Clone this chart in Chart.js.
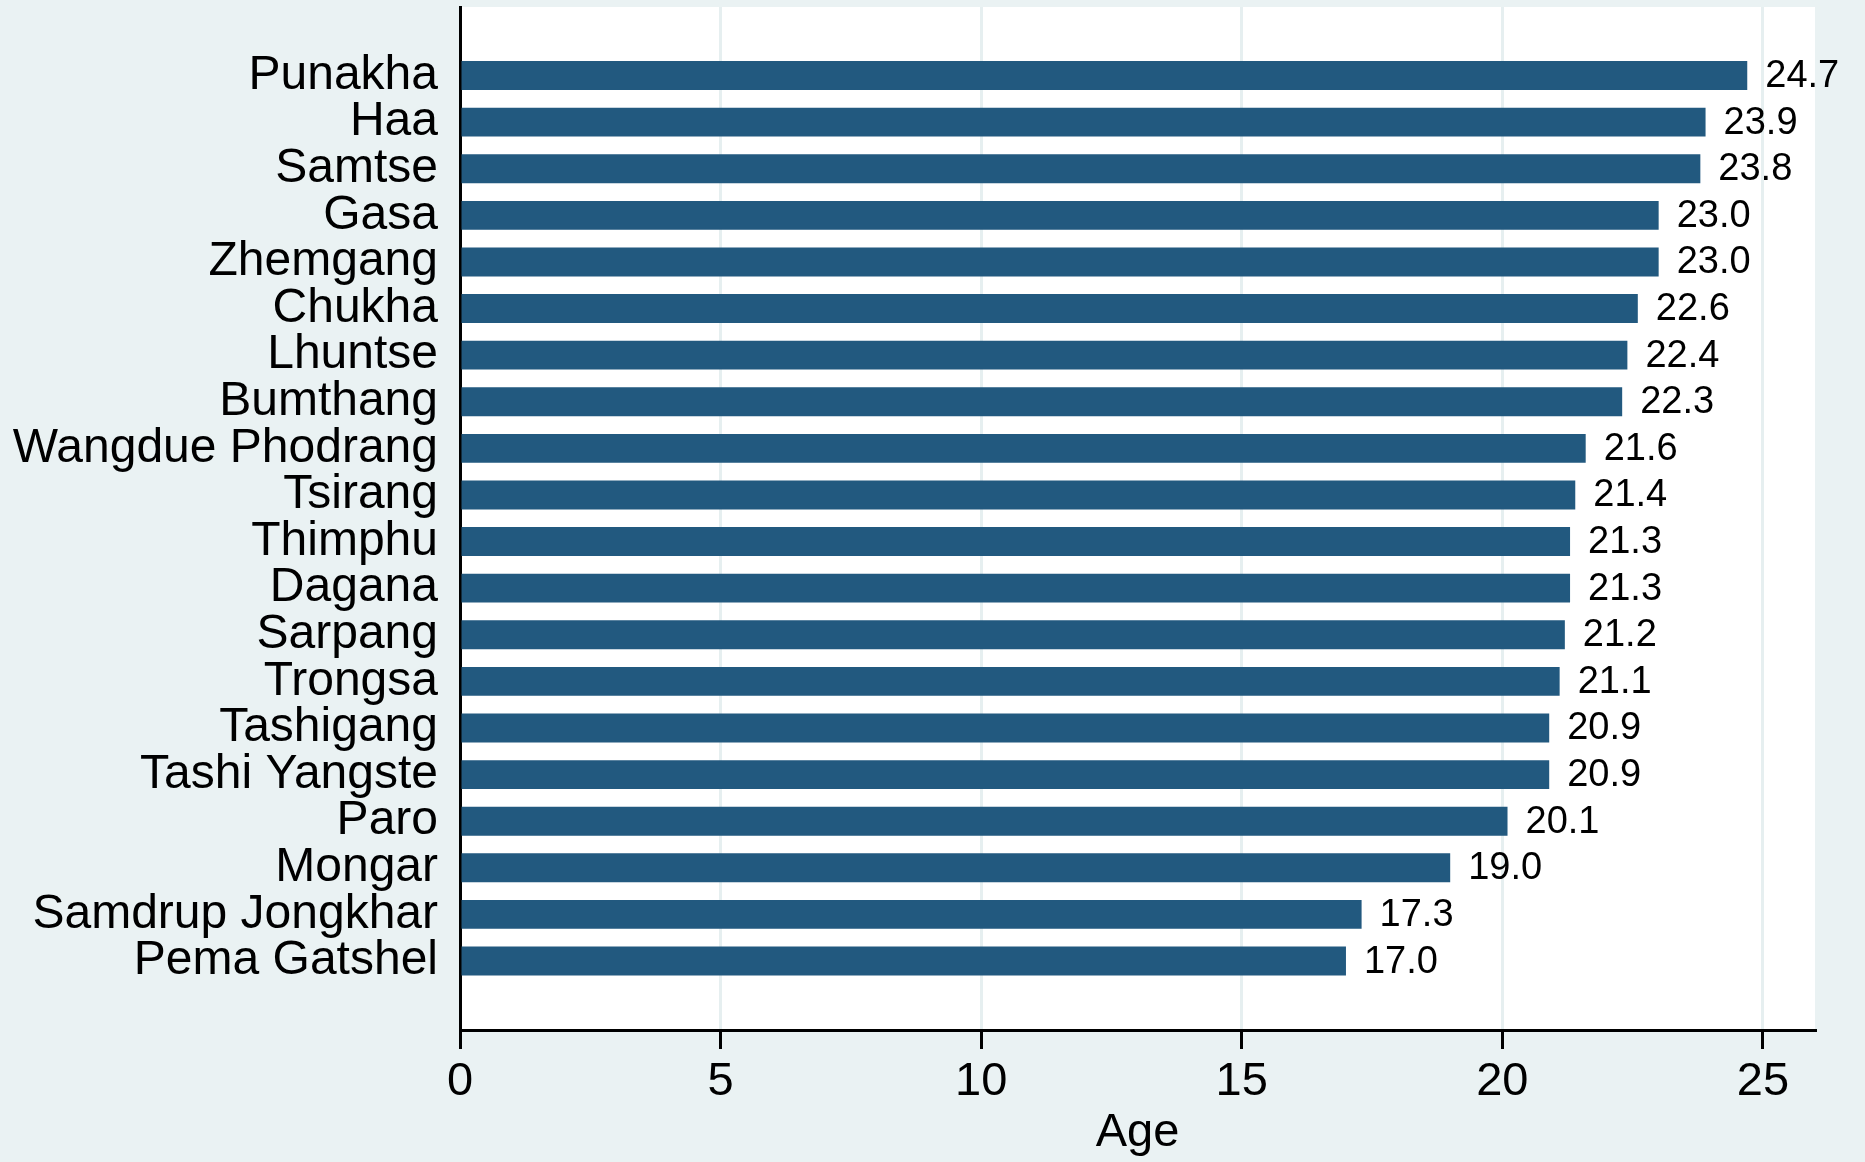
<!DOCTYPE html>
<html>
<head>
<meta charset="utf-8">
<script src="https://cdn.jsdelivr.net/npm/chart.js@4.4.1/dist/chart.umd.min.js"></script>
<style>
    body { margin: 0; background: #eaf2f3; }
    #age-chart { display: block; }
</style>
</head>
<body>
<canvas id="age-chart" width="1865" height="1162"></canvas>
<script>
// districts, top to bottom
var districts = ["Punakha", "Haa", "Samtse", "Gasa", "Zhemgang", "Chukha", "Lhuntse", "Bumthang",
    "Wangdue Phodrang", "Tsirang", "Thimphu", "Dagana", "Sarpang", "Trongsa", "Tashigang",
    "Tashi Yangste", "Paro", "Mongar", "Samdrup Jongkhar", "Pema Gatshel"];
var ages = [24.7, 23.9, 23.8, 23.0, 23.0, 22.6, 22.4, 22.3, 21.6, 21.4, 21.3, 21.3, 21.2, 21.1,
    20.9, 20.9, 20.1, 19.0, 17.3, 17.0];
var ageTicks = [0, 5, 10, 15, 20, 25];
var axisTitle = "Age";

var FONT = "'Liberation Sans', Arial, Helvetica, sans-serif";

var points = [];
for (var i = 0; i < districts.length; i++) {
    points.push({ x: ages[i], y: i });
}

// white plot region on the bluish-gray page
var plotBg = {
    id: 'plotBg',
    beforeDraw: function (chart) {
        var a = chart.chartArea, ctx = chart.ctx;
        ctx.save();
        ctx.fillStyle = '#eaf2f3';
        ctx.fillRect(0, 0, chart.width, chart.height);
        ctx.fillStyle = '#ffffff';
        ctx.fillRect(a.left, a.top, a.right - a.left, a.bottom - a.top);
        ctx.restore();
    }
};

// value next to each bar
var barValues = {
    id: 'barValues',
    afterDatasetsDraw: function (chart) {
        var ctx = chart.ctx;
        var meta = chart.getDatasetMeta(0);
        ctx.save();
        ctx.fillStyle = '#000000';
        ctx.font = '38px ' + FONT;
        ctx.textAlign = 'left';
        ctx.textBaseline = 'middle';
        meta.data.forEach(function (bar, i) {
            ctx.fillText(ages[i].toFixed(1), bar.x + 18, bar.y + 1);
        });
        ctx.restore();
    }
};

function noPad(scale) {
    scale.paddingTop = 0;
    scale.paddingBottom = 0;
    scale.paddingLeft = 0;
    scale.paddingRight = 0;
}

new Chart(document.getElementById("age-chart"), {
    type: 'bar',
    data: {
        datasets: [{
            data: points,
            backgroundColor: '#22597f',
            borderWidth: 0,
            barPercentage: 0.62,
            categoryPercentage: 1
        }]
    },
    options: {
        indexAxis: 'y',
        responsive: false,
        animation: false,
        layout: { padding: { left: 0, top: 7, right: 50, bottom: 0 } },
        plugins: {
            legend: { display: false },
            tooltip: { enabled: false }
        },
        scales: {
            x: {
                type: 'linear',
                bounds: 'data',
                min: 0,
                max: 26,
                afterFit: function (scale) { scale.height = 132; noPad(scale); },
                afterBuildTicks: function (scale) {
                    scale.ticks = ageTicks.map(function (v) { return { value: v }; });
                },
                ticks: {
                    color: '#000000',
                    padding: 5,
                    font: { family: FONT, size: 47 }
                },
                grid: {
                    color: '#e6eff0',
                    lineWidth: 3,
                    tickColor: '#000000',
                    tickWidth: 3,
                    tickLength: 19
                },
                border: { display: true, color: '#000000', width: 3 },
                title: {
                    display: true,
                    text: axisTitle,
                    color: '#000000',
                    padding: { top: 0, bottom: 1 },
                    font: { family: FONT, size: 47 }
                }
            },
            y: {
                type: 'linear',
                bounds: 'data',
                offset: false,
                reverse: true,
                min: -1.47,
                max: 20.48,
                afterFit: function (scale) { scale.width = 460; noPad(scale); },
                afterBuildTicks: function (scale) {
                    scale.ticks = districts.map(function (d, i) { return { value: i }; });
                },
                ticks: {
                    autoSkip: false,
                    color: '#000000',
                    padding: 22,
                    font: { family: FONT, size: 48, lineHeight: 1 },
                    callback: function (v) {
                        return districts[v] !== undefined ? districts[v] : '';
                    }
                },
                grid: { display: false, drawTicks: false, offset: false },
                border: { display: true, color: '#000000', width: 3 }
            }
        }
    },
    plugins: [plotBg, barValues]
});
</script>
</body>
</html>
